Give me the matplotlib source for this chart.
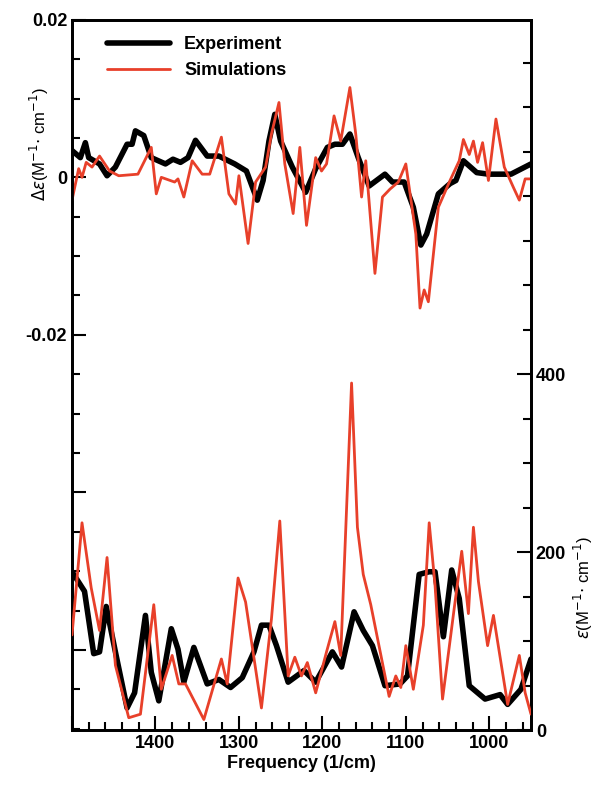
import matplotlib
matplotlib.use("Agg")
import matplotlib.pyplot as plt
from matplotlib.ticker import MultipleLocator, FixedLocator, FuncFormatter

# VCD experiment
vcd_exp_x = [1500,1490,1484,1480,1467,1458,1448,1434,1428,1424,1414,1405,1388,1379,1370,1361,1352,1338,1324,1305,1291,1278,1271,1264,1257,1250,1236,1220,1208,1194,1185,1176,1167,1157,1144,1125,1116,1102,1091,1082,1075,1061,1047,1040,1031,1015,1001,974,950]
vcd_exp_y = [0.0034,0.0025,0.0044,0.0025,0.0017,0.0002,0.0013,0.0042,0.0042,0.0059,0.0053,0.0025,0.0017,0.0023,0.0019,0.0025,0.0047,0.0027,0.0027,0.0017,0.0008,-0.0029,-0.0004,0.0046,0.0080,0.0046,0.0013,-0.0019,0.0011,0.0038,0.0042,0.0042,0.0055,0.0025,-0.0011,0.0004,-0.0006,-0.0006,-0.0038,-0.0086,-0.0072,-0.0021,-0.0008,-0.0004,0.0021,0.0006,0.0004,0.0004,0.0017]
# VCD simulation
vcd_sim_x = [1500,1492,1488,1483,1476,1467,1455,1444,1421,1405,1399,1393,1377,1373,1366,1356,1344,1335,1321,1312,1304,1300,1289,1280,1268,1261,1252,1245,1235,1227,1219,1208,1201,1195,1186,1178,1167,1160,1153,1148,1137,1128,1119,1109,1100,1088,1083,1078,1073,1061,1047,1036,1031,1024,1019,1014,1008,1001,992,982,971,964,957,950]
vcd_sim_y = [-0.0029,0.0011,0.0,0.0019,0.0013,0.0027,0.0008,0.0002,0.0004,0.0038,-0.0021,0.0,-0.0006,-0.0002,-0.0025,0.0021,0.0004,0.0004,0.0051,-0.0021,-0.0034,0.0002,-0.0084,-0.0006,0.0013,0.0055,0.0095,0.0017,-0.0046,0.0038,-0.0061,0.0025,0.0008,0.0017,0.0078,0.0046,0.0114,0.0055,-0.0025,0.0021,-0.0122,-0.0025,-0.0015,-0.0006,0.0017,-0.0072,-0.0166,-0.0143,-0.0158,-0.0038,-0.0004,0.0021,0.0048,0.0029,0.0046,0.0019,0.0044,-0.0004,0.0074,0.0013,-0.0013,-0.0029,-0.0002,-0.0002]
# IR experiment
ir_exp_x = [1500,1485,1474,1467,1459,1448,1434,1425,1412,1405,1396,1381,1373,1366,1354,1338,1324,1310,1296,1282,1273,1264,1255,1241,1222,1208,1188,1177,1162,1151,1140,1125,1107,1098,1084,1072,1065,1055,1045,1036,1024,1005,987,978,962,950]
ir_exp_y = [178,156,86,88,139,88,25,42,129,65,33,114,91,54,93,52,57,48,59,88,118,118,95,54,67,54,88,71,133,112,95,50,52,61,175,178,178,105,180,148,50,35,40,29,46,80]
# IR simulation
ir_sim_x = [1500,1488,1477,1467,1458,1448,1432,1418,1402,1393,1380,1372,1364,1342,1321,1314,1301,1292,1273,1261,1251,1241,1233,1225,1218,1208,1195,1185,1178,1165,1158,1151,1142,1120,1112,1106,1100,1091,1079,1072,1065,1056,1042,1033,1025,1019,1013,1002,995,978,964,957,950]
ir_sim_y = [107,233,160,112,194,73,14,18,141,46,84,52,52,12,80,52,171,144,25,125,235,61,82,61,76,42,88,122,84,390,228,175,141,38,61,48,95,46,118,233,163,35,137,201,131,228,167,95,129,29,84,42,18]

x_tick_labels = {1400: "1400", 1300: "1300", 1200: "1200", 1100: "1100", 1000: "1000"}
left_tick_labels = {0.02: "0.02", 0.0: "0", -0.02: "-0.02"}
right_tick_labels = {0: "0", 200: "200", 400: "400"}

RED = "#e8402a"
fig = plt.figure(figsize=(6, 7.92), dpi=100)
ax = fig.add_axes([0.12, 0.078, 0.765, 0.897])
ax2 = ax.twinx()

kw = dict(solid_joinstyle="round", solid_capstyle="round")
ax.plot(vcd_exp_x, vcd_exp_y, color="black", lw=4, label="Experiment", zorder=3, **kw)
ax.plot(vcd_sim_x, vcd_sim_y, color=RED, lw=2, label="Simulations", zorder=4, **kw)
ax2.plot(ir_exp_x, ir_exp_y, color="black", lw=4, zorder=3, **kw)
ax2.plot(ir_sim_x, ir_sim_y, color=RED, lw=2, zorder=4, **kw)

ax.set_xlim(1500, 950)
ax.set_ylim(-0.0702, 0.02)
ax2.set_ylim(0, 798)

ax.xaxis.set_major_locator(MultipleLocator(100))
ax.xaxis.set_minor_locator(MultipleLocator(20))
ax.xaxis.set_major_formatter(FuncFormatter(lambda v, p: x_tick_labels.get(int(round(v)), "")))
ax.yaxis.set_major_locator(FixedLocator([0.02, 0, -0.02, -0.04, -0.06]))
ax.yaxis.set_minor_locator(MultipleLocator(0.005))
ax.yaxis.set_major_formatter(FuncFormatter(lambda v, p: left_tick_labels.get(round(v, 3), "")))
ax2.yaxis.set_major_locator(FixedLocator([0, 200, 400]))
ax2.yaxis.set_minor_locator(MultipleLocator(50))
ax2.yaxis.set_major_formatter(FuncFormatter(lambda v, p: right_tick_labels.get(int(round(v)), "")))

for a in (ax, ax2):
    a.tick_params(which="both", direction="in", width=1.5)
    a.tick_params(which="major", length=10)
    a.tick_params(which="minor", length=6)
    for s in a.spines.values():
        s.set_linewidth(2)
    for t in a.get_xticklabels() + a.get_yticklabels():
        t.set_fontsize(13); t.set_fontweight("bold"); t.set_family("Liberation Sans")
ax.tick_params(top=False, which="both")

ax.set_xlabel("Frequency (1/cm)", fontsize=13, fontweight="bold", family="Liberation Sans", labelpad=2)
ax.text(-0.07, 0.8255, r"$\Delta\varepsilon$(M$^{-1}$$\cdot$ cm$^{-1}$)", transform=ax.transAxes,
        rotation=90, ha="center", va="center", fontsize=12, family="Liberation Sans")
ax.text(1.115, 0.2, r"$\varepsilon$(M$^{-1}$$\cdot$ cm$^{-1}$)", transform=ax.transAxes,
        rotation=90, ha="center", va="center", fontsize=12, family="Liberation Sans")

leg = ax.legend(loc="upper left", bbox_to_anchor=(0.04, 1.0), frameon=False,
                prop=dict(size=13, weight="bold", family="Liberation Sans"), handlelength=3.5)
fig.savefig("out.png", dpi=100)
